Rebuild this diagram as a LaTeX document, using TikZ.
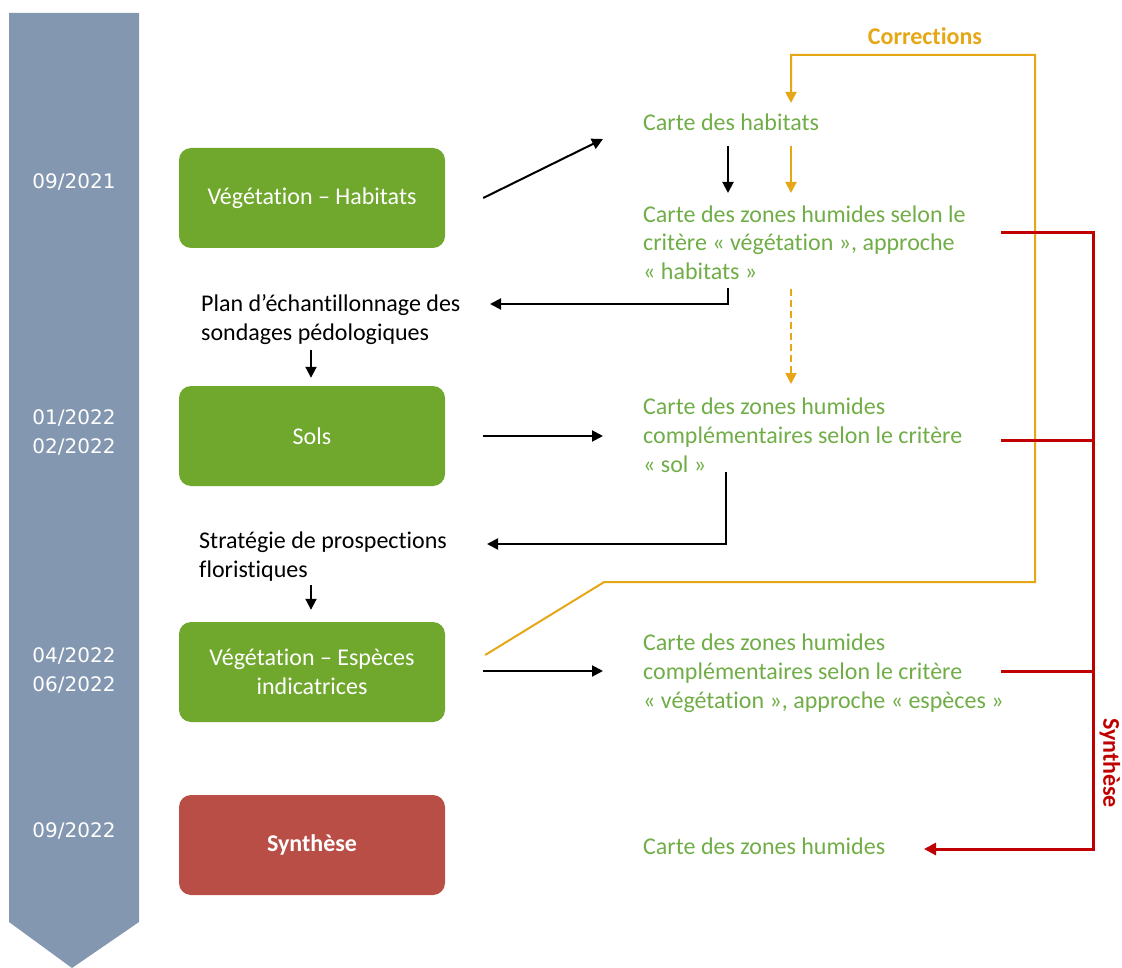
\documentclass[tikz,border=0pt]{standalone}
\usepackage{fontspec}
\setmainfont{Carlito}[RawFeature={-liga;-clig;-calt;-dlig}]
\newfontfamily\datefont{DejaVu Sans}
\usetikzlibrary{arrows.meta,calc}
\definecolor{banner}{RGB}{132,151,176}
\definecolor{boxgreen}{RGB}{112,168,46}
\definecolor{txtgreen}{RGB}{112,173,71}
\definecolor{boxred}{RGB}{185,78,70}
\definecolor{corrcol}{RGB}{229,167,22}
\definecolor{synred}{RGB}{192,0,0}
\begin{document}
\begin{tikzpicture}[x=1pt,y=-1pt,
 stagebox/.style={draw=none,rounded corners=12pt,minimum width=266pt,minimum height=100pt,text=white,font=\fontsize{24}{29}\selectfont,align=center,inner sep=0pt},
 maptext/.style={anchor=base west,inner sep=0pt,align=left,text=txtgreen,font=\fontsize{24}{29}\selectfont},
 plaintext/.style={anchor=base west,inner sep=0pt,align=left,text=black,font=\fontsize{24}{29}\selectfont},
 datetext/.style={inner sep=0pt,align=center,text=white,font=\datefont\fontsize{20}{29}\selectfont,anchor=base},
 arr/.style={draw=black,line width=2pt,-{Triangle[length=11pt,width=11pt]}},
 oarr/.style={draw=corrcol,line width=2pt,-{Triangle[length=11pt,width=11pt]}},
 rline/.style={draw=synred,line width=3pt},
]
\useasboundingbox (0,0) rectangle (1122,968);
\fill[banner] (9,13) -- (139,13) -- (139,922) -- (72,968) -- (9,922) -- cycle;

% dates (base = last line)
\node[datetext] (d1) at (74,189) {09/2021};
\node[datetext] (d2) at (74,453) {01/2022\\02/2022};
\node[datetext] (d3) at (74,691) {04/2022\\06/2022};
\node[datetext] (d4) at (74,837) {09/2022};

% stage boxes
\node[stagebox,fill=boxgreen] (vh) at (312,198) {Végétation – Habitats};
\node[stagebox,fill=boxgreen] (sols) at (312,436) {Sols};
\node[stagebox,fill=boxgreen] (ve) at (312,672) {Végétation – Espèces\\indicatrices};
\node[stagebox,fill=boxred] (syn) at (312,845) {\bfseries Synthèse};

% texts (anchored at the baseline of their last line)
\node[maptext] (ch) at (643,131) {Carte des habitats};
\node[maptext] (z1) at (643,280) {Carte des zones humides selon le\\critère « végétation », approche\\« habitats »};
\node[plaintext] (plan) at (201,341) {Plan d’échantillonnage des\\sondages pédologiques};
\node[maptext] (z2) at (643,472) {Carte des zones humides\\complémentaires selon le critère\\« sol »};
\node[plaintext] (strat) at (199,577) {Stratégie de prospections\\floristiques};
\node[maptext] (z3) at (643,708) {Carte des zones humides\\complémentaires selon le critère\\« végétation », approche « espèces »};
\node[maptext] (z4) at (643,854) {Carte des zones humides};

\node[font=\bfseries\fontsize{24}{29}\selectfont,text=corrcol] (corrlab) at (925,36) {Corrections};
\node[rotate=-90,font=\bfseries\fontsize{24}{29}\selectfont,text=synred] (synlab) at (1110,763) {Synthèse};

% black connectors
\draw[arr] ($(vh.east)+(38,0)$) -- ($(ch.base west)+(-40,8)$);
\draw[arr] ($(ch.base west)+(85,15)$) -- ($(z1.base west)+(85,-87)$);
\draw[arr] ($(z1.base west)+(85,8)$) |- ($(plan.base west)+(289,-37)$);
\draw[arr] ($(plan.base west)+(110,9)$) -- ($(sols.north)+(-1,-8)$);
\draw[arr] ($(sols.east)+(38,0)$) -- ($(z2.base west)+(-40,-36)$);
\draw[arr] ($(z2.base west)+(83,0)$) |- ($(strat.base west)+(288,-33)$);
\draw[arr] ($(strat.base west)+(112,8)$) -- ($(ve.north)+(-1,-12)$);
\draw[arr] ($(ve.east)+(38,-1)$) -- ($(z3.base west)+(-40,-37)$);

% orange connectors
\draw[oarr] ($(ch.base west)+(148,15)$) -- ($(z1.base west)+(148,-87)$);
\draw[oarr,dash pattern=on 7pt off 4pt] ($(z1.base west)+(148,9)$) -- ($(z2.base west)+(148,-88)$);
\draw[oarr] ($(ve.east)+(40,-17)$) -- ++(119,-73) -- ++(431,0) |- ($(ch.base west)+(148,-76)$) -- ($(ch.base west)+(148,-28)$);

% red synthesis
\draw[rline,-{Triangle[length=12pt,width=12pt]}] ($(z1.base west)+(358,-47)$) -- ++(92,0) |- ($(z4.base west)+(281,-5)$);
\draw[rline] ($(z2.base west)+(358,-32)$) -- ++(92,0);
\draw[rline] ($(z3.base west)+(358,-37)$) -- ++(92,0);
\end{tikzpicture}
\end{document}
